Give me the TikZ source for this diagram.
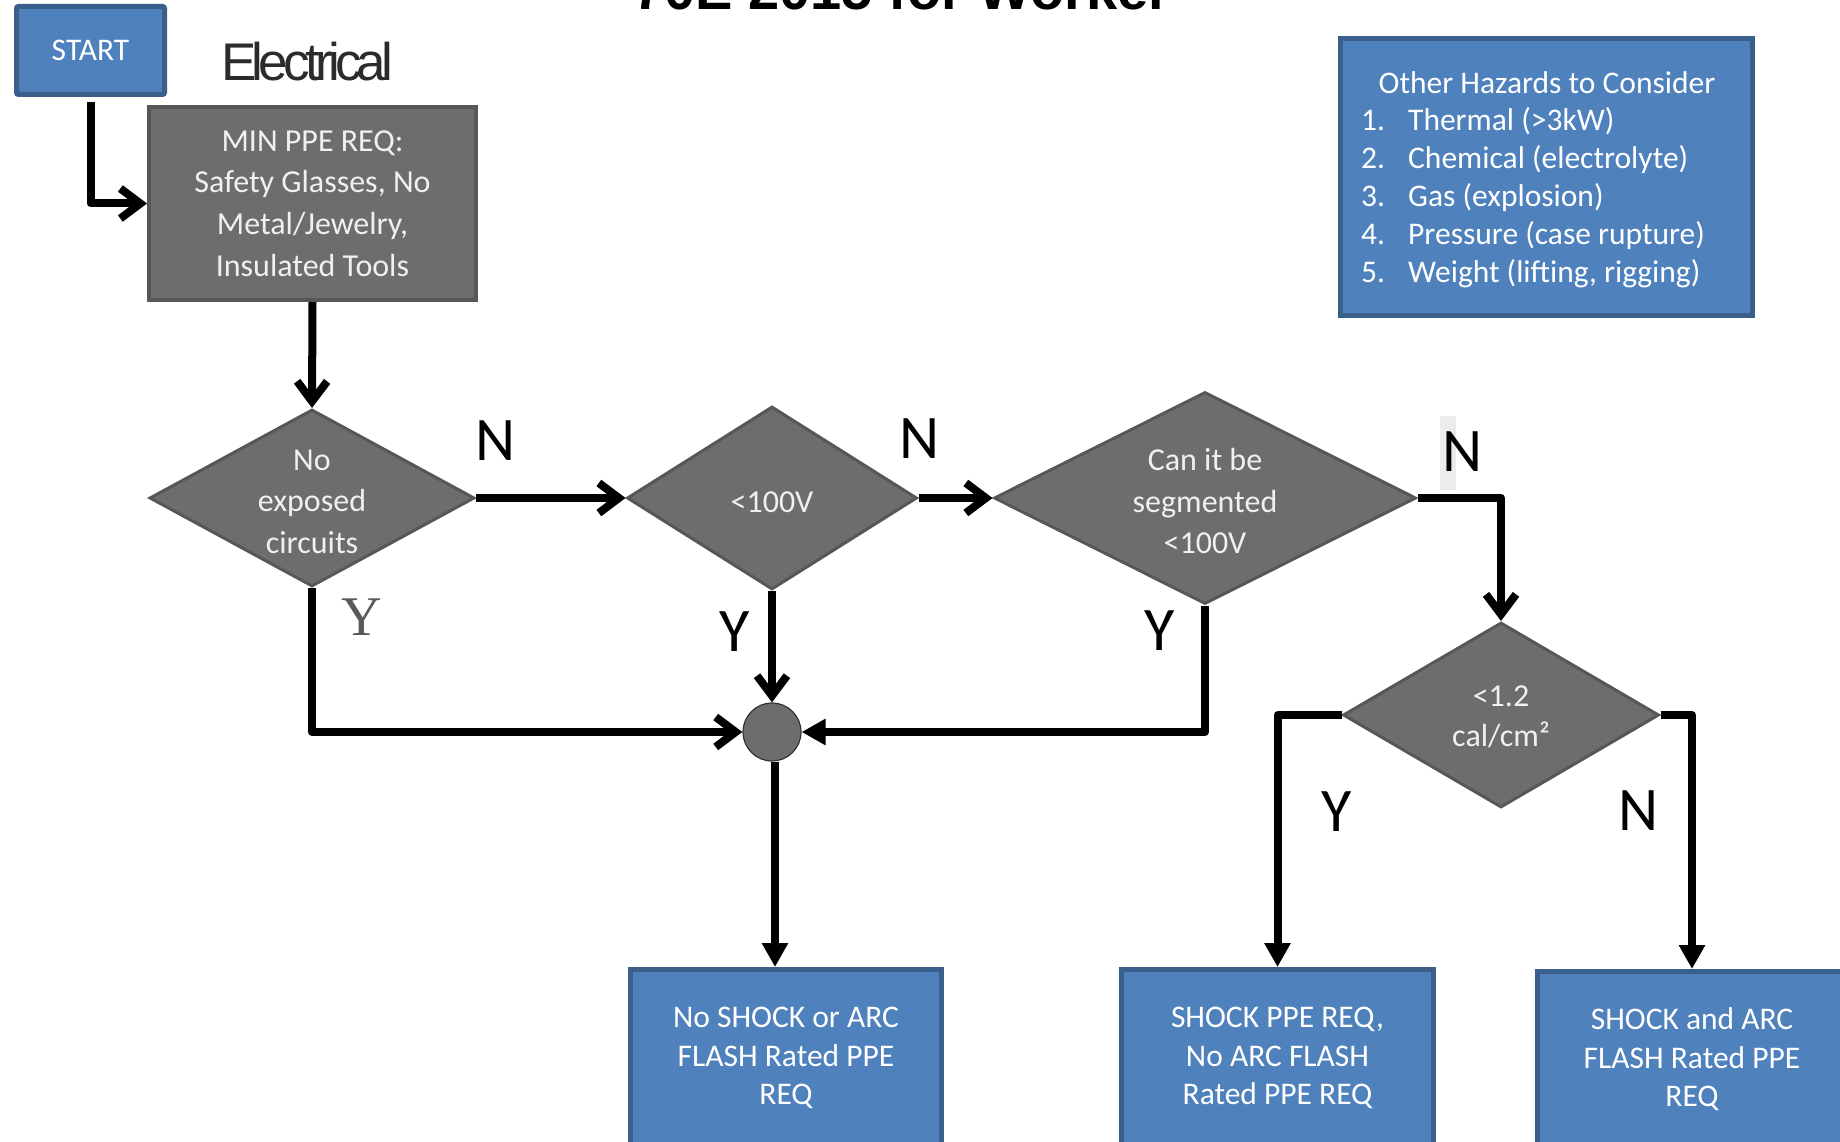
\documentclass[tikz,border=0pt]{standalone}
\usepackage{fontspec}
\setmainfont{Carlito}
\newfontfamily\elecfont[LetterSpace=-9]{Liberation Sans}
\newfontfamily\serifY{Liberation Serif}
\newfontfamily\titlefont{Liberation Sans}
\usetikzlibrary{arrows.meta,shapes.geometric}
\definecolor{boxblue}{HTML}{4F81BD}
\definecolor{blueedge}{HTML}{3A5F8B}
\definecolor{shapegray}{HTML}{6D6D6D}
\definecolor{grayedge}{HTML}{575757}
\definecolor{lighttext}{HTML}{F0F0F0}
\definecolor{labelgray}{HTML}{595959}
\definecolor{elecgray}{HTML}{2B2B2B}
\definecolor{stripgray}{HTML}{ECECEC}
\tikzset{
  bluebox/.style={draw=blueedge, line width=5pt, fill=boxblue, text=white, align=center, inner sep=0pt, font=\fontsize{31.5}{38.5}\selectfont},
  graybox/.style={draw=grayedge, line width=4pt, fill=shapegray, text=lighttext, align=center, inner sep=0pt, font=\fontsize{32}{41.6}\selectfont},
  decision/.style={diamond, draw=grayedge, line width=3pt, fill=shapegray, inner sep=0pt},
  dtext/.style={text=lighttext, align=center, inner sep=0pt, font=\fontsize{32}{41.5}\selectfont},
  lab/.style={inner sep=0pt, font=\fontsize{62}{62}\selectfont},
  conn/.style={line width=8pt, draw=black, line join=round},
  barb/.style={-{Straight Barb[length=20pt,width=30pt]}},
  tri/.style={-{Triangle[length=24pt,width=25pt]}},
}
\begin{document}
\begin{tikzpicture}[x=1pt,y=-1pt]
\useasboundingbox (0,0) rectangle (1840,1142);
\clip (0,0) rectangle (1840,1142);
\fill[white] (0,0) rectangle (1840,1142);

% title (cut off at top)
\node[anchor=base west, inner sep=0pt, font=\fontsize{56}{56}\titlefont\bfseries] (title) at (633,10) {70E 2015 for Worker};
\node[anchor=base west, inner sep=0pt, text=elecgray, font=\fontsize{53}{53}\elecfont] (elec) at (221,81) {Electrical};

% boxes
\node[bluebox, rounded corners=2pt, minimum width=148pt, minimum height=88pt] (start) at (90.5,50.5) {START};
\node[graybox, minimum width=327pt, minimum height=193pt] (minppe) at (312.5,203.5) {MIN PPE REQ:\\Safety Glasses, No\\Metal/Jewelry,\\Insulated Tools};

% hazards box
\node[bluebox, minimum width=412pt, minimum height=277pt] (hz) at (1546.5,177) {};
\node[text=white, inner sep=0pt, font=\fontsize{31.5}{38}\selectfont] (hzt) at (1547,83) {Other Hazards to Consider};
\node[text=white, inner sep=0pt, anchor=west, font=\fontsize{31.5}{38}\selectfont] (hzl) at (1361,199) {\begin{tabular}{@{}p{47pt}@{}l@{}}1.&Thermal (>3kW)\\2.&Chemical (electrolyte)\\3.&Gas (explosion)\\4.&Pressure (case rupture)\\5.&Weight (lifting, rigging)\end{tabular}};

% decisions
\node[decision, minimum width=325pt, minimum height=177pt] (d1) at (312,498) {};
\node[decision, minimum width=290pt, minimum height=183pt] (d2) at (772,498) {};
\node[decision, minimum width=422pt, minimum height=212pt] (d3) at (1205,498) {};
\node[decision, minimum width=316pt, minimum height=185pt] (d4) at (1501,715) {};
\node[dtext] (d1t) at (312,501.5) {No\\exposed\\circuits};
\node[dtext] (d2t) at (772,502) {<100V};
\node[dtext] (d3t) at (1205,501) {Can it be\\segmented\\<100V};
\node[dtext, font=\fontsize{32}{40}\selectfont] (d4t) at (1501,717) {<1.2\\cal/cm²};

% junction
\node[circle, fill=shapegray, draw=black!80, line width=1.2pt, minimum size=58pt, inner sep=0pt] (junc) at (772,732) {};

% results
\node[bluebox, minimum width=311pt, minimum height=177pt] (res1) at (786,1058) {No SHOCK or ARC\\FLASH Rated PPE\\REQ};
\node[bluebox, minimum width=312pt, minimum height=177pt] (res2) at (1277.5,1058) {SHOCK PPE REQ,\\No ARC FLASH\\Rated PPE REQ};
\node[bluebox, minimum width=309pt, minimum height=176pt] (res3) at (1692,1059.5) {SHOCK and ARC\\FLASH Rated PPE\\REQ};

% labels
\node[lab] (n1) at (496,441) {N};
\node[lab] (n2) at (920,439) {N};
\fill[stripgray] (1440,416) rectangle (1456,490);
\node[lab] (n3) at (1462,452) {N};
\node[lab] (n4) at (1638,811) {N};
\node[lab, text=labelgray, font=\fontsize{56}{56}\serifY] (y1) at (362,617) {Y};
\node[lab] (y2) at (735,632) {Y};
\node[lab] (y3) at (1160,631) {Y};
\node[lab] (y4) at (1337,812) {Y};

% connectors
\draw[conn,barb] ([yshift=-5pt]start.south) |- (minppe.west);
\draw[conn,barb] (minppe.south) -- (d1.north);
\draw[conn,barb] (d1.east) -- (d2.west);
\draw[conn,barb] (d2.east) -- (d3.west);
\draw[conn,barb] (d3.east) -| (d4.north);
\draw[conn,barb] (d1.south) |- (junc.west);
\draw[conn,barb] (d2.south) -- (junc.north);
\draw[conn,tri] (d3.south) |- (junc.east);
\draw[conn,tri] ([xshift=3pt]junc.south) -- ([xshift=3pt]junc.south |- res1.north);
\draw[conn,tri] (d4.west) -| (res2.north);
\draw[conn,tri] (d4.east) -| (res3.north);
\end{tikzpicture}
\end{document}
